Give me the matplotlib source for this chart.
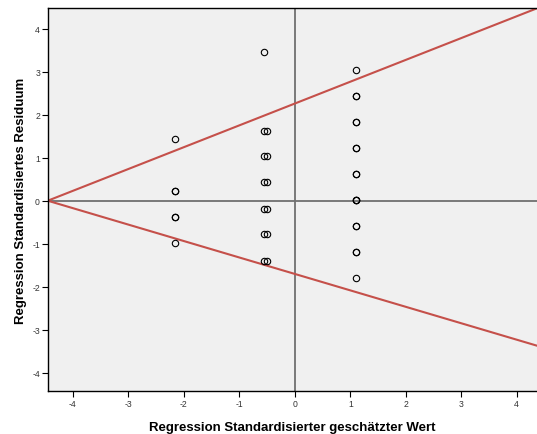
import matplotlib.pyplot as plt

plt.rcParams['font.family'] = ['Liberation Sans', 'DejaVu Sans']
plt.rcParams['axes.unicode_minus'] = False

# predicted standardized values (x) and standardized residuals (y)
x_col1 = [-2.16, -2.16, -2.16, -2.16]
y_col1 = [1.43, 0.23, -0.37, -0.98]
x_col2a = [-0.55, -0.55, -0.55, -0.55, -0.55, -0.55, -0.55]
y_col2a = [3.46, 1.63, 1.03, 0.43, -0.18, -0.78, -1.39]
x_col2b = [-0.50, -0.50, -0.50, -0.50, -0.50, -0.50]
y_col2b = [1.63, 1.03, 0.43, -0.18, -0.78, -1.39]
x_col3 = [1.10, 1.10, 1.10, 1.10, 1.10, 1.10, 1.10, 1.10, 1.10]
y_col3 = [3.04, 2.43, 1.83, 1.23, 0.62, 0.02, -0.59, -1.19, -1.80]
# duplicated cases (drawn on top -> bolder circles)
x_dup = [-2.16, -2.16, 1.10, 1.10, 1.10, 1.10, 1.10, 1.10, 1.10, 1.10]
y_dup = [0.23, -0.37, 2.43, 1.83, 1.23, 0.62, 0.02, 0.02, -0.59, -1.19]

# reference lines: intercept at x=0 and slope
line_intercepts = [2.26, -1.70]
line_slopes = [0.507, -0.382]

xticks = [-4, -3, -2, -1, 0, 1, 2, 3, 4]
yticks = [-4, -3, -2, -1, 0, 1, 2, 3, 4]

fig = plt.figure(figsize=(5.37, 4.35), dpi=100)
ax = fig.add_axes([0.0899, 0.0989, 0.9101, 0.8804])
ax.set_facecolor('#F0F0F0')

ax.axhline(0, color='#707070', lw=1.3, zorder=1)
ax.axvline(0, color='#707070', lw=1.3, zorder=1)

for b, m in zip(line_intercepts, line_slopes):
    ax.axline((0, b), slope=m, color='#C5504A', lw=1.5, zorder=2)

mk = dict(marker='o', ls='none', ms=4.6, mfc='none', mec='black', mew=0.8, zorder=3)
ax.plot(x_col1, y_col1, **mk)
ax.plot(x_col2a, y_col2a, **mk)
ax.plot(x_col2b, y_col2b, **mk)
ax.plot(x_col3, y_col3, **mk)
ax.plot(x_dup, y_dup, **mk)

ax.set_xlim(-4.445, 4.366)
ax.set_ylim(-4.42, 4.48)
ax.set_xticks(xticks)
ax.set_yticks(yticks)
ax.tick_params(direction='out', length=4, width=0.8, labelsize=6.2, pad=2,
               labelcolor='#333333')

for s in ['left', 'bottom', 'top']:
    ax.spines[s].set_linewidth(1.0)
ax.spines['right'].set_visible(False)

ax.set_xlabel('Regression Standardisierter geschätzter Wert', fontsize=9.5,
              fontweight='bold', labelpad=9)
ax.set_ylabel('Regression Standardisiertes Residuum', fontsize=9.5,
              fontweight='bold', labelpad=4)

plt.savefig('out.png', dpi=100)
